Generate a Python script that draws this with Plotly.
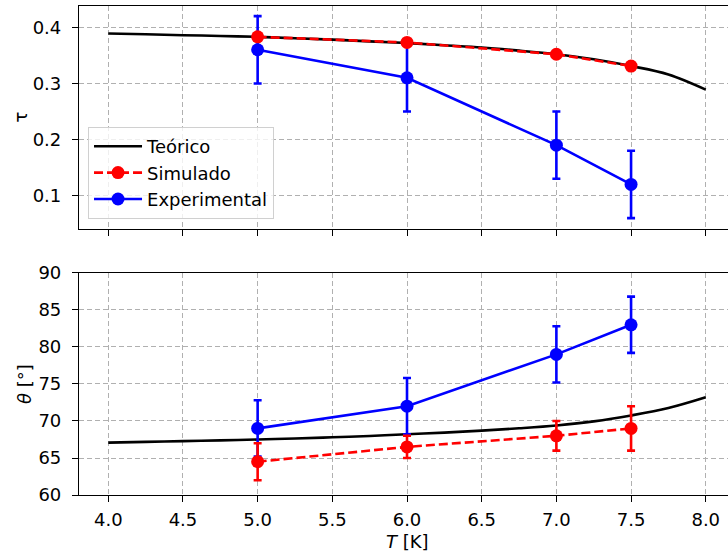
import plotly.graph_objects as go
from plotly.subplots import make_subplots

# Theoretical curves (read along T, every 0.25 K)
T_theo = [4.0, 4.25, 4.5, 4.75, 5.0, 5.25, 5.5, 5.75, 6.0,
          6.25, 6.5, 6.75, 7.0, 7.25, 7.5, 7.75, 8.0]
tau_theo = [0.389, 0.3876, 0.386, 0.3846, 0.383, 0.3806, 0.378, 0.375, 0.372,
            0.368, 0.364, 0.3585, 0.352, 0.343, 0.331, 0.316, 0.289]
theta_theo = [67.08, 67.18, 67.28, 67.38, 67.5, 67.63, 67.8, 67.98, 68.2,
              68.43, 68.7, 69.02, 69.4, 69.95, 70.75, 71.75, 73.2]

# Measured temperatures
T_pts = [5.0, 6.0, 7.0, 7.5]

# Simulated
tau_sim = [0.383, 0.373, 0.352, 0.331]
theta_sim = [64.5, 66.5, 68.0, 69.0]
theta_sim_err = [2.5, 1.5, 2.0, 3.0]

# Experimental
tau_exp = [0.36, 0.31, 0.19, 0.12]
tau_exp_err = [0.06, 0.06, 0.06, 0.06]
theta_exp = [69.0, 72.0, 79.0, 83.0]
theta_exp_err = [3.8, 3.8, 3.8, 3.8]

x_ticks = [4.0, 4.5, 5.0, 5.5, 6.0, 6.5, 7.0, 7.5, 8.0]
tau_ticks = [0.1, 0.2, 0.3, 0.4]
theta_ticks = [60, 65, 70, 75, 80, 85, 90]

BLUE = "#0000ff"
RED = "#ff0000"
FONT = "DejaVu Sans"
FS = 18
LW = 2.6
MS = 13
DASH = "9px,4px"

fig = make_subplots(rows=2, cols=1, vertical_spacing=0.0)

# --- top panel: tau ---
fig.add_trace(go.Scatter(
    x=T_theo, y=tau_theo, mode="lines", name="Teórico",
    line=dict(color="black", width=LW, shape="spline", smoothing=1.0),
    legendgroup="a", legendrank=1), row=1, col=1)
fig.add_trace(go.Scatter(
    x=T_pts, y=tau_exp, mode="lines+markers", name="Experimental",
    line=dict(color=BLUE, width=LW), marker=dict(color=BLUE, size=MS),
    error_y=dict(type="data", array=tau_exp_err, color=BLUE, thickness=LW, width=4),
    legendgroup="c", legendrank=3), row=1, col=1)
fig.add_trace(go.Scatter(
    x=T_pts, y=tau_sim, mode="lines+markers", name="Simulado",
    line=dict(color=RED, width=LW, dash=DASH), marker=dict(color=RED, size=MS),
    legendgroup="b", legendrank=2), row=1, col=1)

# --- bottom panel: theta ---
fig.add_trace(go.Scatter(
    x=T_theo, y=theta_theo, mode="lines", showlegend=False,
    line=dict(color="black", width=LW, shape="spline", smoothing=1.0)), row=2, col=1)
fig.add_trace(go.Scatter(
    x=T_pts, y=theta_exp, mode="lines+markers", showlegend=False,
    line=dict(color=BLUE, width=LW), marker=dict(color=BLUE, size=MS),
    error_y=dict(type="data", array=theta_exp_err, color=BLUE, thickness=LW, width=4)),
    row=2, col=1)
fig.add_trace(go.Scatter(
    x=T_pts, y=theta_sim, mode="lines+markers", showlegend=False,
    line=dict(color=RED, width=LW, dash=DASH), marker=dict(color=RED, size=MS),
    error_y=dict(type="data", array=theta_sim_err, color=RED, thickness=LW, width=4)),
    row=2, col=1)

axis_common = dict(
    showline=True, linecolor="black", linewidth=1.2,
    ticks="outside", ticklen=6, tickwidth=1.2, tickcolor="black",
    showgrid=True, gridcolor="#b0b0b0", gridwidth=1, griddash="5px,3px",
    zeroline=False, automargin=False,
    tickfont=dict(family=FONT, size=FS, color="black"),
)

fig.update_xaxes(**axis_common, range=[3.804, 8.149], tickvals=x_ticks,
                 ticktext=[f"{v:.1f}" for v in x_ticks], mirror=True,
                 ticklabelstandoff=2)
fig.update_xaxes(showticklabels=False, row=1, col=1)
fig.update_yaxes(**axis_common, ticklabelstandoff=7)
fig.update_yaxes(range=[0.0406, 0.438], tickvals=tau_ticks,
                 ticktext=[f"{v:.1f}" for v in tau_ticks], row=1, col=1)
fig.update_yaxes(range=[60, 90], tickvals=theta_ticks,
                 ticktext=[str(v) for v in theta_ticks], row=2, col=1)

fig.update_layout(
    xaxis=dict(domain=[0, 1]), xaxis2=dict(domain=[0, 1]),
    yaxis=dict(domain=[0.544, 1.0]), yaxis2=dict(domain=[0.0, 0.454]),
)

label_font = dict(family=FONT, size=FS, color="black")
fig.add_annotation(text="τ", xref="paper", yref="paper", x=-0.0909, y=0.772,
                   xanchor="center", yanchor="middle",
                   textangle=-90, showarrow=False, font=label_font)
fig.add_annotation(text="<i>θ</i> [°]", xref="paper", yref="paper", x=-0.0832, y=0.227,
                   xanchor="center", yanchor="middle",
                   textangle=-90, showarrow=False, font=label_font)
fig.add_annotation(text="<i>T</i> [K]", xref="paper", yref="paper", x=0.506, y=-0.096,
                   xanchor="center", yanchor="middle",
                   showarrow=False, font=label_font)

fig.update_layout(
    width=728, height=557,
    margin=dict(l=79, r=0, t=6, b=62, autoexpand=False),
    paper_bgcolor="white", plot_bgcolor="white",
    font=dict(family=FONT, size=FS, color="black"),
    legend=dict(
        x=0.0139, y=0.7526, xanchor="left", yanchor="top",
        bgcolor="rgba(255,255,255,0.8)", bordercolor="#d0d0d0", borderwidth=1,
        font=dict(family=FONT, size=FS, color="black"),
        traceorder="grouped", tracegroupgap=0, itemwidth=48,
    ),
)

fig.write_html("out.html")
